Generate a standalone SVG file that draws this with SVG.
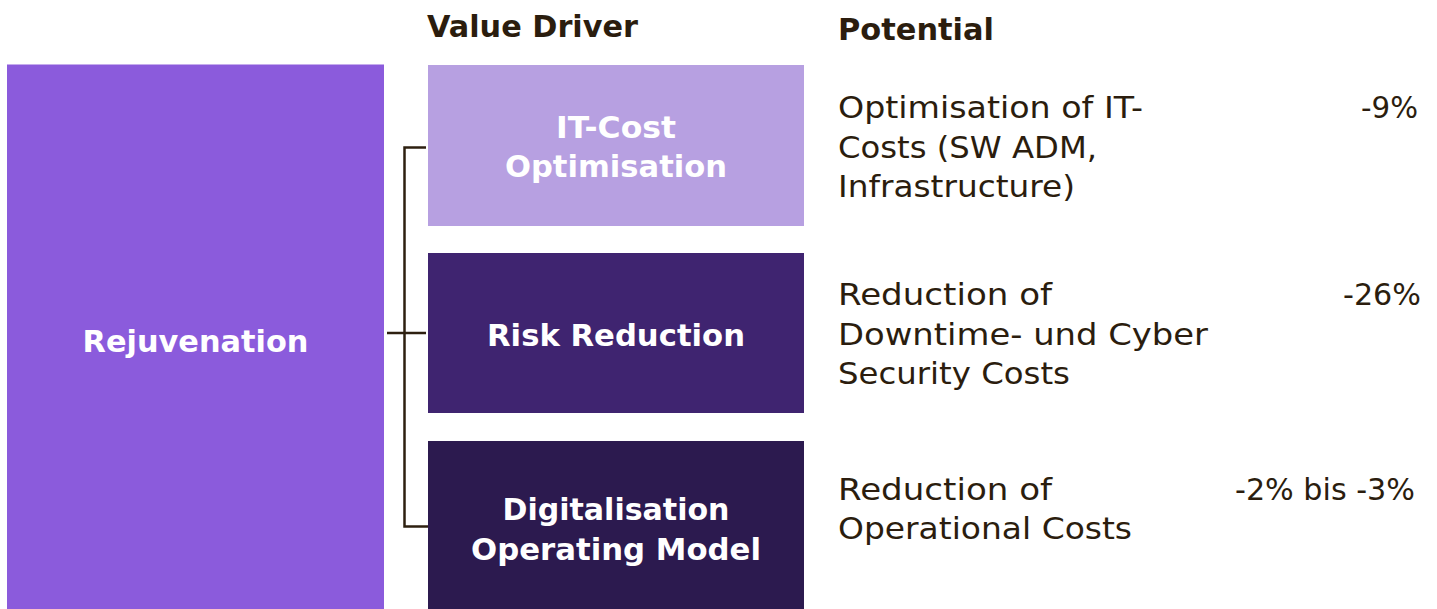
<svg xmlns="http://www.w3.org/2000/svg" width="1437" height="609" viewBox="0 0 1437 609">
  <style>
    .head { font-family: "DejaVu Sans", "Open Sans", sans-serif; font-weight: bold; font-size: 31px; fill: #2b1d0e; }
    .label { font-family: "DejaVu Sans", "Open Sans", sans-serif; font-weight: bold; font-size: 31px; fill: #ffffff; text-anchor: middle; }
    .body { font-family: "DejaVu Sans", "Open Sans", sans-serif; font-size: 29.5px; fill: #2b1d0e; }
    .pct { text-anchor: end; }
    .link { fill: none; stroke: #2e2010; stroke-width: 2.5; }
  </style>

  <rect width="1437" height="609" fill="#ffffff"/>

  <!-- column headings -->
  <text class="head" x="427" y="37" textLength="211" lengthAdjust="spacingAndGlyphs">Value Driver</text>
  <text class="head" x="838" y="40" textLength="156" lengthAdjust="spacingAndGlyphs">Potential</text>

  <!-- root node -->
  <g id="rejuvenation">
    <rect x="7" y="64.5" width="377" height="545" fill="#8b5bdc"/>
    <text class="label" x="195.5" y="352" textLength="226" lengthAdjust="spacingAndGlyphs">Rejuvenation</text>
  </g>

  <!-- bracket connecting the root to the value drivers -->
  <g id="connectors">
    <path class="link" d="M426 147.5 H404.5 V526.5 H428"/>
    <path class="link" d="M387 333 H426"/>
  </g>

  <!-- value drivers -->
  <g id="it-cost">
    <rect x="428" y="65" width="376" height="161" fill="#b7a0e1"/>
    <text class="label" x="616" y="137.5" textLength="120" lengthAdjust="spacingAndGlyphs">IT-Cost</text>
    <text class="label" x="616" y="176.5" textLength="222" lengthAdjust="spacingAndGlyphs">Optimisation</text>
  </g>

  <g id="risk-reduction">
    <rect x="428" y="253" width="376" height="160" fill="#3f2470"/>
    <text class="label" x="616" y="346" textLength="258" lengthAdjust="spacingAndGlyphs">Risk Reduction</text>
  </g>

  <g id="digitalisation">
    <rect x="428" y="441" width="376" height="168" fill="#2c1a4f"/>
    <text class="label" x="616" y="519.5" textLength="227" lengthAdjust="spacingAndGlyphs">Digitalisation</text>
    <text class="label" x="616" y="559.5" textLength="290" lengthAdjust="spacingAndGlyphs">Operating Model</text>
  </g>

  <!-- potentials -->
  <g id="potential-it-cost">
    <text class="body" x="838" y="118" textLength="305" lengthAdjust="spacingAndGlyphs">Optimisation of IT-</text>
    <text class="body" x="838" y="157.5" textLength="259" lengthAdjust="spacingAndGlyphs">Costs (SW ADM,</text>
    <text class="body" x="838" y="196.5" textLength="237" lengthAdjust="spacingAndGlyphs">Infrastructure)</text>
    <text class="body pct" x="1418" y="118" textLength="57" lengthAdjust="spacingAndGlyphs">-9%</text>
  </g>

  <g id="potential-risk">
    <text class="body" x="838" y="305" textLength="214" lengthAdjust="spacingAndGlyphs">Reduction of</text>
    <text class="body" x="838" y="344.5" textLength="370" lengthAdjust="spacingAndGlyphs">Downtime- und Cyber</text>
    <text class="body" x="838" y="383.5" textLength="232" lengthAdjust="spacingAndGlyphs">Security Costs</text>
    <text class="body pct" x="1421" y="305" textLength="78" lengthAdjust="spacingAndGlyphs">-26%</text>
  </g>

  <g id="potential-digitalisation">
    <text class="body" x="838" y="500" textLength="214" lengthAdjust="spacingAndGlyphs">Reduction of</text>
    <text class="body" x="838" y="539" textLength="294" lengthAdjust="spacingAndGlyphs">Operational Costs</text>
    <text class="body pct" x="1415" y="500" textLength="180" lengthAdjust="spacingAndGlyphs">-2% bis -3%</text>
  </g>
</svg>
